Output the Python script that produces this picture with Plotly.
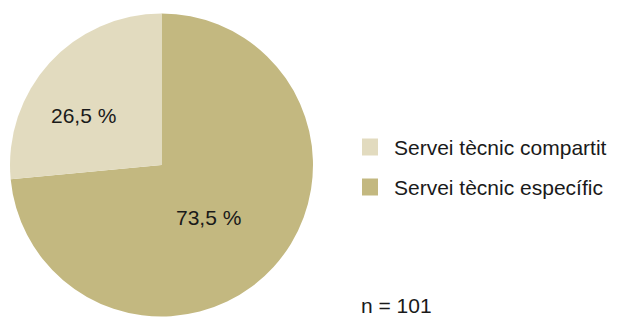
import plotly.graph_objects as go

labels = ["Servei tècnic compartit", "Servei tècnic específic"]
values = [26.5, 73.5]
colors = ["#e2dbbf", "#c3b880"]
n_total = 101

W, H = 617, 318
FONT = "Liberation Sans, Arial, Helvetica, sans-serif"
FS = 21

def fmt(v):
    return f"{v:.1f} %".replace(".", ",")

# slices drawn clockwise from 12 o'clock: specific first, then shared
fig = go.Figure(go.Pie(
    labels=labels[::-1], values=values[::-1], sort=False, direction="clockwise",
    rotation=0, marker=dict(colors=colors[::-1], line=dict(width=0)),
    textinfo="none", hoverinfo="label+percent", showlegend=False,
    domain=dict(x=[10/W, 313/W], y=[1-317/H, 1-13/H]),
))

label_pos = [(84, 116), (208, 217)]
for v, (px, py) in zip(values, label_pos):
    fig.add_annotation(x=px/W, y=1-py/H, xref="paper", yref="paper",
                       text=fmt(v), showarrow=False,
                       xanchor="center", yanchor="middle",
                       font=dict(family=FONT, size=FS, color="#1a1a1a"))

leg_y = [147, 187]
for lab, col, py in zip(labels, colors, leg_y):
    fig.add_shape(type="rect", xref="paper", yref="paper",
                  x0=362/W, x1=378/W, y0=1-(py+8.5)/H, y1=1-(py-8.5)/H,
                  fillcolor=col, line=dict(width=0))
    fig.add_annotation(x=392/W, y=1-py/H, xref="paper", yref="paper",
                       text=lab, showarrow=False, xanchor="left", yanchor="middle",
                       font=dict(family=FONT, size=FS, color="#1a1a1a"))

fig.add_annotation(x=360/W, y=1-305.5/H, xref="paper", yref="paper",
                   text=f"n = {n_total}", showarrow=False, borderpad=0,
                   xanchor="left", yanchor="middle",
                   font=dict(family=FONT, size=FS, color="#1a1a1a"))

fig.update_layout(width=W, height=H, margin=dict(l=0, r=0, t=0, b=0),
                  paper_bgcolor="white", plot_bgcolor="white")
fig.write_html("out.html", config={"displayModeBar": False},
               post_script="document.body.style.margin='0';document.body.style.overflow='hidden';")
